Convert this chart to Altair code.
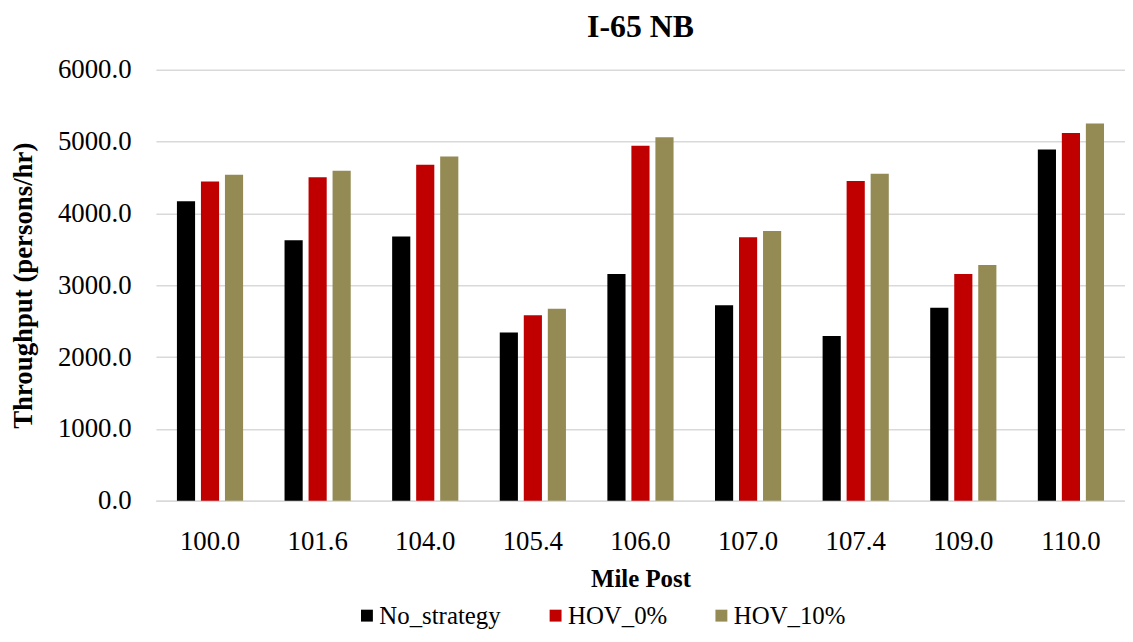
import altair as alt
import pandas as pd

mile_posts = ["100.0", "101.6", "104.0", "105.4", "106.0", "107.0", "107.4", "109.0", "110.0"]
series = ["No_strategy", "HOV_0%", "HOV_10%"]
colors = ["#000000", "#C00000", "#948A54"]

no_strategy = [4171, 3628, 3678, 2342, 3158, 2720, 2295, 2688, 4890]
hov_0 = [4445, 4503, 4679, 2581, 4941, 3668, 4452, 3158, 5121]
hov_10 = [4540, 4596, 4793, 2674, 5060, 3756, 4554, 3282, 5254]

rows = []
for name, vals in zip(series, [no_strategy, hov_0, hov_10]):
    for mp, v in zip(mile_posts, vals):
        rows.append({"Mile Post": mp, "Series": name, "Throughput": v})
df = pd.DataFrame(rows)

FONT = "Liberation Serif"

chart = alt.Chart(df).mark_bar().encode(
    x=alt.X("Mile Post:N", sort=mile_posts,
            scale=alt.Scale(paddingInner=0.385, paddingOuter=0.195),
            axis=alt.Axis(title="Mile Post", labelAngle=0, ticks=False,
                          domainColor="#d9d9d9", domainWidth=1.5,
                          labelFontSize=27, labelPadding=28, labelColor="#000000",
                          titleFontSize=25, titleFontWeight="bold", titlePadding=12,
                          titleColor="#000000")),
    xOffset=alt.XOffset("Series:N", sort=series,
                        scale=alt.Scale(paddingInner=0.244, paddingOuter=0)),
    y=alt.Y("Throughput:Q",
            scale=alt.Scale(domain=[0, 6000], nice=False),
            axis=alt.Axis(title="Throughput (persons/hr)", values=[0, 1000, 2000, 3000, 4000, 5000, 6000],
                          format=".1f", ticks=False, domain=False,
                          gridColor="#d9d9d9", gridWidth=1.5,
                          labelFontSize=27, labelPadding=25, labelColor="#000000",
                          titleFontSize=27, titleFontWeight="bold", titlePadding=20,
                          titleColor="#000000")),
    color=alt.Color("Series:N", sort=series,
                    scale=alt.Scale(domain=series, range=colors),
                    legend=alt.Legend(title=None, orient="none", direction="horizontal",
                                      legendX=200, legendY=537,
                                      symbolType="square", symbolSize=144,
                                      symbolStrokeWidth=0, symbolOpacity=1,
                                      labelFontSize=25, labelOffset=0,
                                      columnPadding=42, labelColor="#000000")),
).properties(
    width=976,
    height=434,
    title=alt.Title("I-65 NB", fontSize=32, fontWeight="bold", font=FONT,
                    color="#000000", offset=12),
    autosize=alt.AutoSizeParams(type="none"),
    padding={"left": 149, "top": 60, "right": 0, "bottom": 132},
).configure(
    font=FONT,
).configure_view(
    stroke=None,
)

chart.save("out.html", embed_options={"renderer": "svg", "actions": False})
